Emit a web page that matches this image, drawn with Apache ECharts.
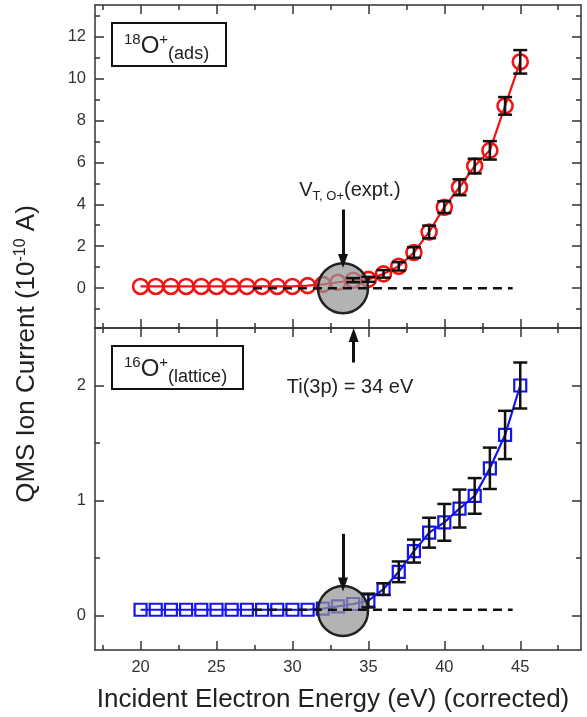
<!DOCTYPE html>
<html>
<head>
<meta charset="utf-8">
<script src="https://cdn.jsdelivr.net/npm/echarts@6/dist/echarts.min.js"></script>
<style>
  html, body { margin: 0; padding: 0; background: #fff; }
  #chart { width: 587px; height: 717px; }
</style>
</head>
<body>
<div id="chart"></div>
<script>
// energies (eV), same for both panels
const energy = [20, 21, 22, 23, 24, 25, 26, 27, 28, 29, 30, 31, 32, 33, 34, 35, 36, 37, 38, 39, 40, 41, 42, 43, 44, 45]

// 18O+ (ads), 10^-10 A
const o18Values = [0.08, 0.08, 0.08, 0.08, 0.08, 0.08, 0.08, 0.08, 0.08, 0.08, 0.08, 0.12, 0.18, 0.28, 0.38, 0.42, 0.68, 1.04, 1.7, 2.68, 3.86, 4.81, 5.82, 6.57, 8.69, 10.79]
const o18Errors = [0, 0, 0, 0, 0, 0, 0, 0, 0, 0, 0, 0, 0, 0, 0.1, 0.12, 0.18, 0.2, 0.25, 0.3, 0.28, 0.38, 0.35, 0.44, 0.42, 0.56]

// 16O+ (lattice), 10^-10 A
const o16Values = [0.05, 0.05, 0.05, 0.05, 0.05, 0.05, 0.05, 0.05, 0.05, 0.05, 0.05, 0.05, 0.06, 0.08, 0.1, 0.13, 0.23, 0.38, 0.56, 0.72, 0.81, 0.93, 1.04, 1.28, 1.57, 2.0]
const o16Errors = [0, 0, 0, 0, 0, 0, 0, 0, 0, 0, 0, 0, 0, 0, 0, 0.06, 0.05, 0.09, 0.1, 0.13, 0.16, 0.165, 0.155, 0.18, 0.21, 0.2]

// baselines (dashed) and threshold markers
const baseTop = [[27.4, 0], [44.5, 0]]
const baseBottom = [[27.4, 0.05], [44.5, 0.05]]
const thresholdTop = [[33.33, 0]]
const thresholdBottom = [[33.33, 0.04]]

// axis ticks
const xMajor = [20, 25, 30, 35, 40, 45]
const xMinor = [17.5, 22.5, 27.5, 32.5, 37.5, 42.5, 47.5]
const yTopMajor = [0, 2, 4, 6, 8, 10, 12]
const yTopMinor = [-1, 1, 3, 5, 7, 9, 11, 13]
const yBotMajor = [0, 1, 2]
const yBotMinor = [0.5, 1.5]

const frameColor = '#333'
const font = 'Liberation Sans'

// two axes per side: one with long (major) ticks, one with short (minor) ticks
function sideAxes(grid, position, majors, minors, min, max, labels) {
  const base = {
    gridIndex: grid, type: 'value', position: position, min: min, max: max,
    splitLine: { show: false }
  }
  return [
    Object.assign({}, base, {
      axisLine: { show: true, onZero: false, lineStyle: { color: frameColor, width: 1.5 } },
      axisTick: { show: true, inside: true, length: 9, customValues: majors, lineStyle: { color: frameColor, width: 1.5 } },
      axisLabel: { show: labels, customValues: majors, color: '#333', fontSize: 16.5, fontFamily: font, margin: 9 }
    }),
    Object.assign({}, base, {
      axisLine: { show: false, onZero: false },
      axisTick: { show: true, inside: true, length: 5, customValues: minors, lineStyle: { color: frameColor, width: 1.5 } },
      axisLabel: { show: false }
    })
  ]
}

function errorSeries(xi, yi, xs, ys, errs) {
  return {
    type: 'custom', xAxisIndex: xi, yAxisIndex: yi, z: 6,
    data: xs.map((x, i) => [x, ys[i], errs[i]]).filter(d => d[2] > 0),
    encode: { x: 0, y: 1 },
    renderItem: function (params, api) {
      const x = api.value(0), y = api.value(1), e = api.value(2)
      const hi = api.coord([x, y + e])
      const lo = api.coord([x, y - e])
      const w = 7
      const st = { stroke: '#111', lineWidth: 2.5 }
      return {
        type: 'group',
        children: [
          { type: 'line', shape: { x1: hi[0], y1: hi[1], x2: lo[0], y2: lo[1] }, style: st },
          { type: 'line', shape: { x1: hi[0] - w, y1: hi[1], x2: hi[0] + w, y2: hi[1] }, style: st },
          { type: 'line', shape: { x1: lo[0] - w, y1: lo[1], x2: lo[0] + w, y2: lo[1] }, style: st }
        ]
      }
    }
  }
}

function arrowLine(from, to) {
  return [{ coord: from }, { coord: to }]
}

const xAxes = [].concat(
  sideAxes(0, 'bottom', xMajor, xMinor, 17, 49, false),
  sideAxes(0, 'top', xMajor, xMinor, 17, 49, false),
  sideAxes(1, 'bottom', xMajor, xMinor, 17, 49, true),
  sideAxes(1, 'top', xMajor, xMinor, 17, 49, false)
)
const yAxes = [].concat(
  sideAxes(0, 'left', yTopMajor, yTopMinor, -1.9, 13.5, true),
  sideAxes(0, 'right', yTopMajor, yTopMinor, -1.9, 13.5, false),
  sideAxes(1, 'left', yBotMajor, yBotMinor, -0.3, 2.5, true),
  sideAxes(1, 'right', yBotMajor, yBotMinor, -0.3, 2.5, false)
)

const boxRich = {
  o: { fontSize: 24, fontFamily: font, fill: '#222' },
  sup: { fontSize: 15, fontFamily: font, fill: '#222', padding: [0, 0, 12, 0] },
  sub: { fontSize: 18, fontFamily: font, fill: '#222', padding: [17, 0, 0, 0] }
}

const chart = echarts.init(document.getElementById('chart'), null, { renderer: 'canvas' })

const option = {
  backgroundColor: '#fff',
  animation: false,
  grid: [
    { left: 95, top: 5, width: 486, height: 323 },
    { left: 95, top: 328, width: 486, height: 322 }
  ],
  xAxis: xAxes,
  yAxis: yAxes,
  series: [
    {
      type: 'line', xAxisIndex: 0, yAxisIndex: 0, z: 3,
      data: energy.map((x, i) => [x, o18Values[i]]),
      symbol: 'circle', symbolSize: 15,
      lineStyle: { color: '#f01414', width: 2.2 },
      itemStyle: { color: 'rgba(255,255,255,0)', borderColor: '#f01414', borderWidth: 2.6 }
    },
    {
      type: 'line', xAxisIndex: 4, yAxisIndex: 4, z: 3,
      data: energy.map((x, i) => [x, o16Values[i]]),
      symbol: 'rect', symbolSize: 12,
      lineStyle: { color: '#1414f0', width: 2.2 },
      itemStyle: { color: 'rgba(255,255,255,0)', borderColor: '#1414f0', borderWidth: 2.2 }
    },
    {
      type: 'scatter', xAxisIndex: 0, yAxisIndex: 0, z: 4,
      data: thresholdTop, symbolSize: 50,
      itemStyle: { color: 'rgba(150,150,150,0.72)', borderColor: '#222', borderWidth: 2.5, opacity: 1 }
    },
    {
      type: 'scatter', xAxisIndex: 4, yAxisIndex: 4, z: 4,
      data: thresholdBottom, symbolSize: 50,
      itemStyle: { color: 'rgba(150,150,150,0.72)', borderColor: '#222', borderWidth: 2.5, opacity: 1 }
    },
    {
      type: 'line', xAxisIndex: 0, yAxisIndex: 0, z: 5,
      data: baseTop, symbol: 'none',
      lineStyle: { color: '#111', width: 2.5, type: [9, 6] },
      markLine: {
        silent: true, symbol: ['none', 'triangle'], symbolSize: [10, 14],
        lineStyle: { color: '#111', width: 3, type: 'solid' }, label: { show: false },
        data: [arrowLine([33.33, 3.75], [33.33, 1.3])]
      }
    },
    {
      type: 'line', xAxisIndex: 4, yAxisIndex: 4, z: 5,
      data: baseBottom, symbol: 'none',
      lineStyle: { color: '#111', width: 2.5, type: [9, 6] },
      markLine: {
        silent: true, symbol: ['none', 'triangle'], symbolSize: [10, 14],
        lineStyle: { color: '#111', width: 3, type: 'solid' }, label: { show: false },
        data: [
          arrowLine([33.33, 0.71], [33.33, 0.27]),
          arrowLine([34.03, 2.2], [34.03, 2.44])
        ]
      }
    },
    errorSeries(0, 0, energy, o18Values, o18Errors),
    errorSeries(4, 4, energy, o16Values, o16Errors)
  ],
  graphic: [
    {
      type: 'text', x: 27, y: 354, rotation: Math.PI / 2,
      style: {
        text: 'QMS Ion Current (10{sup|-10} A)',
        font: '26px "Liberation Sans"', fill: '#222', align: 'center', verticalAlign: 'middle',
        rich: { sup: { fontSize: 16, fontFamily: font, fill: '#222', padding: [0, 0, 13, 0] } }
      }
    },
    {
      type: 'text', x: 333, y: 700,
      style: {
        text: 'Incident Electron Energy (eV) (corrected)',
        font: '26px "Liberation Sans"', fill: '#222', align: 'center', verticalAlign: 'middle'
      }
    },
    { type: 'rect', shape: { x: 112, y: 23, width: 114, height: 43 }, style: { fill: '#fff', stroke: '#111', lineWidth: 2 }, z: 10 },
    {
      type: 'text', x: 124, y: 46, z: 11,
      style: { text: '{sup|18}{o|O}{sup|+}{sub|(ads)}', align: 'left', verticalAlign: 'middle', fill: '#222', rich: boxRich }
    },
    { type: 'rect', shape: { x: 112, y: 346, width: 131, height: 43 }, style: { fill: '#fff', stroke: '#111', lineWidth: 2 }, z: 10 },
    {
      type: 'text', x: 124, y: 369, z: 11,
      style: { text: '{sup|16}{o|O}{sup|+}{sub|(lattice)}', align: 'left', verticalAlign: 'middle', fill: '#222', rich: boxRich }
    },
    {
      type: 'text', x: 350, y: 190, z: 11,
      style: {
        text: 'V{sub|T, O+}(expt.)',
        font: '20px "Liberation Sans"', fill: '#222', align: 'center', verticalAlign: 'middle',
        rich: { sub: { fontSize: 13, fontFamily: font, fill: '#222', padding: [12, 0, 0, 0] } }
      }
    },
    {
      type: 'text', x: 350, y: 387, z: 11,
      style: { text: 'Ti(3p) = 34 eV', font: '20px "Liberation Sans"', fill: '#222', align: 'center', verticalAlign: 'middle' }
    }
  ]
}

chart.setOption(option)
</script>
</body>
</html>
